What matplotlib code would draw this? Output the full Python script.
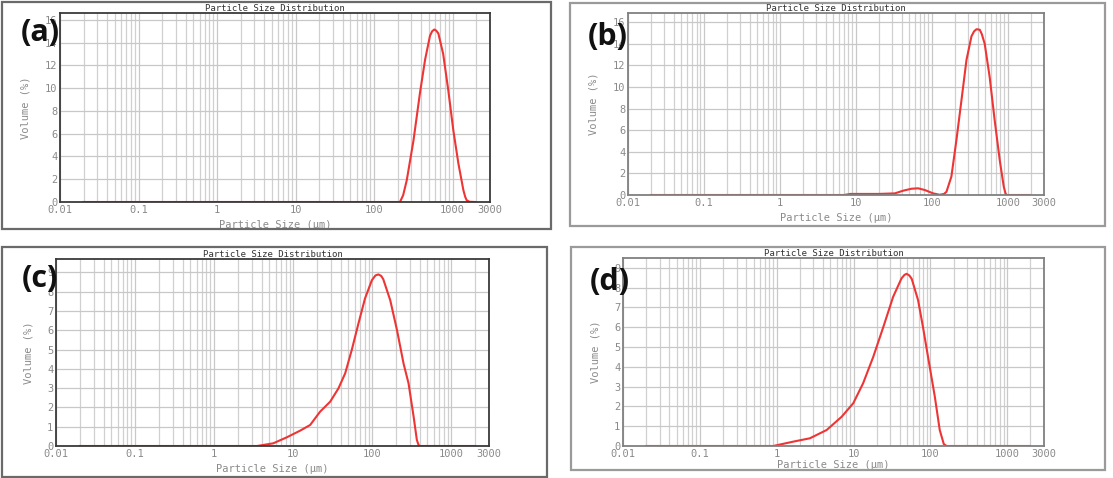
import matplotlib
matplotlib.use("Agg")
import matplotlib.pyplot as plt
from matplotlib.patches import Rectangle
from matplotlib.ticker import LogLocator, NullFormatter

# ---- data ----
size_a = [0.02, 100, 214, 235, 261, 318, 385, 447, 516, 550, 586, 620, 660,
          760, 883, 1023, 1186, 1373, 1450, 1515, 1650, 1936]
vol_a = [0, 0, 0, 0.6, 1.9, 5.4, 9.6, 12.5, 14.6, 15.0, 15.15, 15.05, 14.8,
         13.0, 9.8, 6.3, 3.4, 1.05, 0.45, 0.15, 0.02, 0]

size_b = [0.02, 7.0, 8.5, 20, 32.6, 42, 54, 66, 81, 104, 127, 145, 156, 181,
          211, 246, 286, 333, 360, 388, 428, 455, 497, 577, 673, 785, 886,
          930, 960, 1950]
vol_b = [0, 0, 0.1, 0.1, 0.15, 0.4, 0.58, 0.62, 0.46, 0.15, 0.02, 0.1, 0.3,
         1.7, 5.1, 8.8, 12.5, 14.7, 15.15, 15.35, 15.3, 14.9, 14.0, 10.95,
         6.9, 3.2, 0.77, 0.2, 0, 0]

size_c = [0.02, 3.5, 5.6, 8.3, 12.3, 16.4, 21.9, 29.4, 37.4, 45.5, 55, 67,
          81, 99, 110, 120, 130, 138, 169, 206, 249, 288, 334, 367, 385, 398,
          2000]
vol_c = [0, 0, 0.14, 0.45, 0.8, 1.09, 1.78, 2.3, 2.99, 3.77, 4.97, 6.36,
         7.65, 8.6, 8.85, 8.9, 8.82, 8.65, 7.56, 6.0, 4.28, 3.25, 1.52, 0.31,
         0.06, 0, 0]

size_d = [0.02, 0.9, 1.64, 2.7, 4.47, 7.0, 9.9, 13.3, 18, 24.3, 32.7, 42,
          46, 49, 53, 57, 69, 80, 93, 114, 132, 149, 162, 1950]
vol_d = [0, 0, 0.22, 0.39, 0.81, 1.48, 2.16, 3.17, 4.5, 6.0, 7.54, 8.47,
         8.65, 8.7, 8.62, 8.45, 7.37, 6.0, 4.5, 2.49, 0.81, 0.1, 0, 0]

x_ticks = [0.01, 0.1, 1, 10, 100, 1000, 3000]
x_tick_labels = ["0.01", "0.1", "1", "10", "100", "1000", "3000"]
panel_labels = ["(a)", "(b)", "(c)", "(d)"]

W, H = 1113, 478


def px_rect(x0, y0, x1, y1):
    """pixel box (top-left origin) -> figure fraction [l, b, w, h]"""
    return [x0 / W, (H - y1) / H, (x1 - x0) / W, (y1 - y0) / H]


def draw_panel(fig, rect, sizes, vols, ymax, yticks, spine_color, xlabelpad=4):
    ax = fig.add_axes(rect)
    ax.plot(sizes, vols, color="#ee3535", lw=1.5, solid_joinstyle="round")
    ax.set_xscale("log")
    ax.set_xlim(0.01, 3000)
    ax.set_ylim(0, ymax)
    ax.set_xticks(x_ticks)
    ax.set_xticklabels(x_tick_labels)
    ax.xaxis.set_minor_locator(LogLocator(base=10, subs=range(2, 10), numticks=20))
    ax.xaxis.set_minor_formatter(NullFormatter())
    ax.set_yticks(yticks)
    ax.set_yticklabels([str(t) for t in yticks])
    ax.grid(which="major", color="#c8c8c8", lw=0.9)
    ax.grid(which="minor", axis="x", color="#d0d0d0", lw=0.9)
    ax.set_axisbelow(True)
    ax.tick_params(which="both", length=0, labelsize=7.5, labelcolor="#8a8a8a",
                   pad=2)
    for lab in ax.get_xticklabels() + ax.get_yticklabels():
        lab.set_family("DejaVu Sans Mono")
    for sp in ax.spines.values():
        sp.set_color(spine_color)
        sp.set_linewidth(1.3)
    ax.set_xlabel("Particle Size (μm)", family="DejaVu Sans Mono", fontsize=7.5,
                  color="#8a8a8a", labelpad=xlabelpad)
    ax.set_ylabel("Volume (%)", family="DejaVu Sans Mono", fontsize=7.5,
                  color="#8a8a8a", labelpad=10)
    ax.set_title("Particle Size Distribution", family="DejaVu Sans Mono",
                 fontsize=6.5, color="#333333", pad=0.5)
    return ax


fig = plt.figure(figsize=(W / 100, H / 100), dpi=100)

# outer frames of each panel
frames = [(2, 2, 551, 229), (570, 3, 1105, 226), (2, 247, 547, 477), (571, 247, 1105, 470)]
frame_colors = ["#6a6a6a", "#9a9a9a", "#6a6a6a", "#9a9a9a"]
for (x0, y0, x1, y1), c in zip(frames, frame_colors):
    fig.patches.append(Rectangle((x0 / W, (H - y1) / H), (x1 - x0) / W, (y1 - y0) / H,
                                 transform=fig.transFigure, fill=False,
                                 edgecolor=c, lw=1.6))

draw_panel(fig, px_rect(60, 13, 490, 202), size_a, vol_a, 16.6, list(range(0, 17, 2)), "#3a3a3a")
draw_panel(fig, px_rect(628, 13, 1044, 195), size_b, vol_b, 16.85, list(range(0, 17, 2)), "#808080")
draw_panel(fig, px_rect(56, 259, 489, 446), size_c, vol_c, 9.7, list(range(0, 10)), "#3a3a3a")
draw_panel(fig, px_rect(623, 258, 1044, 446), size_d, vol_d, 9.5, list(range(0, 10)), "#808080",
           xlabelpad=1)

# panel letters
label_pos = [(40, 33), (608, 37), (40, 279), (610, 282)]
for (x, y), lab in zip(label_pos, panel_labels):
    fig.text(x / W, 1 - y / H, lab, ha="center", va="center", fontsize=22,
             fontweight="bold", family="Open Sans", color="#111111")

fig.savefig("out.png", dpi=100)
